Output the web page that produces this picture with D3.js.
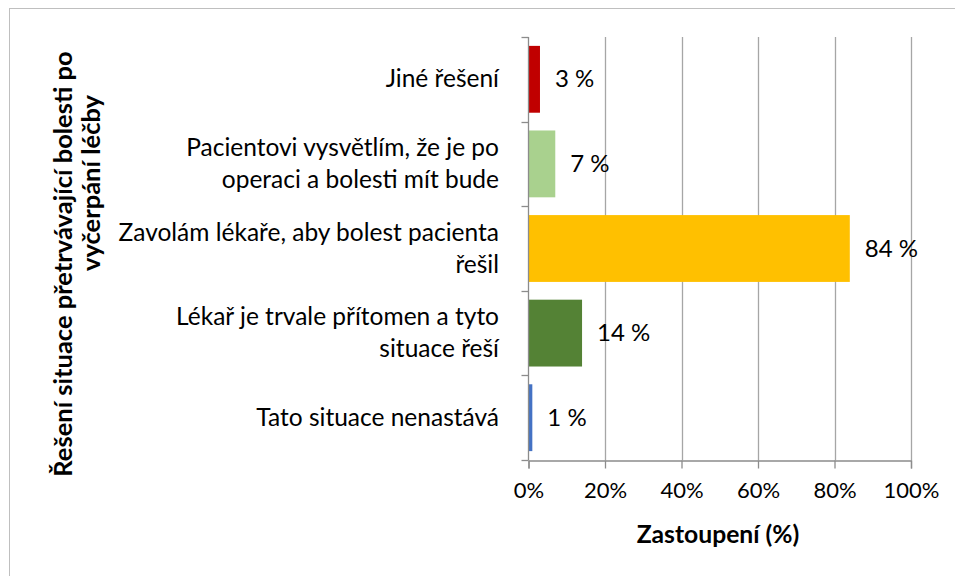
<!DOCTYPE html>
<html>
<head>
<meta charset="utf-8">
<script src="https://cdn.jsdelivr.net/npm/d3@7"></script>
<style>
  body { margin: 0; background: #fff; }
  text { font-family: Lato, "Open Sans", sans-serif; fill: #000; }
</style>
</head>
<body>
<script>
// data, top to bottom as drawn
let categories = [
  ["Jiné řešení"],
  ["Pacientovi vysvětlím, že je po", "operaci a bolesti mít bude"],
  ["Zavolám lékaře, aby bolest pacienta", "řešil"],
  ["Lékař je trvale přítomen a tyto", "situace řeší"],
  ["Tato situace nenastává"]
];
let values = [3, 7, 84, 14, 1];
let colors = ["#C00000", "#A9D18E", "#FFC000", "#548235", "#4472C4"];
let xTicks = [0, 20, 40, 60, 80, 100];

let W = 955, H = 576;
let svg = d3.select("body").append("svg").attr("width", W).attr("height", H);

// outer chart border (only top/left visible in the frame)
svg.append("rect")
   .attr("x", 9.5).attr("y", 8.5)
   .attr("width", W + 20).attr("height", H + 20)
   .attr("fill", "none").attr("stroke", "#bfbfbf").attr("stroke-width", 1);

let x = d3.scaleLinear().domain([0, 100]).range([528.5, 911]);
let keys = d3.range(categories.length);
let y = d3.scaleBand().domain(keys).range([37, 460]).paddingInner(0.21).paddingOuter(0.105);

// vertical gridlines
svg.selectAll("line.grid")
  .data(xTicks.slice(1))
  .enter().append("line")
     .attr("class", "grid")
     .attr("x1", d => Math.round(x(d)) + 0.5)
     .attr("x2", d => Math.round(x(d)) + 0.5)
     .attr("y1", 37).attr("y2", 460)
     .attr("stroke", "#a6a6a6").attr("stroke-width", 1.3);

// bars
svg.selectAll("rect.bar")
  .data(values)
  .enter().append("rect")
     .attr("class", "bar")
     .attr("x", x(0))
     .attr("y", (d, i) => y(i))
     .attr("width", d => x(d) - x(0))
     .attr("height", y.bandwidth())
     .attr("fill", (d, i) => colors[i]);

// x axis
let xAxis = d3.axisBottom(x).tickValues(xTicks).tickSize(8).tickPadding(14)
  .tickFormat(d => d + "%");
let gx = svg.append("g").attr("transform", "translate(0,460.5)").call(xAxis);
gx.select(".domain").attr("stroke", "#8c8c8c").attr("stroke-width", 1.3);
gx.selectAll(".tick line").attr("stroke", "#8c8c8c").attr("stroke-width", 1.3);
gx.selectAll(".tick text").attr("font-size", 22).attr("font-family", "Lato").attr("fill", "#000");

// y axis line + ticks at band boundaries
let bounds = d3.range(categories.length + 1).map(i => 37 + i * (423 / categories.length));
svg.append("line")
   .attr("x1", x(0)).attr("x2", x(0)).attr("y1", 37).attr("y2", 460)
   .attr("stroke", "#8c8c8c").attr("stroke-width", 1.3);
svg.selectAll("line.ytick")
  .data(bounds)
  .enter().append("line")
     .attr("class", "ytick")
     .attr("x1", x(0) - 7).attr("x2", x(0))
     .attr("y1", d => Math.round(d) + 0.5).attr("y2", d => Math.round(d) + 0.5)
     .attr("stroke", "#8c8c8c").attr("stroke-width", 1.3);

// category labels
let lineH = 32;
categories.forEach((lines, i) => {
  let cy = y(i) + y.bandwidth() / 2;
  let t = svg.append("text")
     .attr("text-anchor", "end")
     .attr("font-size", 24.5);
  lines.forEach((s, j) => {
    t.append("tspan")
     .attr("x", 499)
     .attr("y", cy + 8 + (j - (lines.length - 1) / 2) * lineH)
     .text(s);
  });
});

// value labels
svg.selectAll("text.val")
  .data(values)
  .enter().append("text")
     .attr("class", "val")
     .attr("x", d => x(d) + 15)
     .attr("y", (d, i) => y(i) + y.bandwidth() / 2 + 8)
     .attr("font-size", 24)
     .text(d => d + " %");

// axis titles
svg.append("text")
   .attr("x", 718).attr("y", 543)
   .attr("text-anchor", "middle")
   .attr("font-size", 24.7).attr("font-weight", "bold")
   .text("Zastoupení (%)");

svg.append("text")
   .attr("transform", "translate(72,264) rotate(-90)")
   .attr("text-anchor", "middle")
   .attr("font-size", 25.5).attr("font-weight", "bold")
   .text("Řešení situace přetrvávající bolesti po");
svg.append("text")
   .attr("transform", "translate(100,183) rotate(-90)")
   .attr("text-anchor", "middle")
   .attr("font-size", 25.5).attr("font-weight", "bold")
   .text("vyčerpání léčby");
</script>
</body>
</html>
